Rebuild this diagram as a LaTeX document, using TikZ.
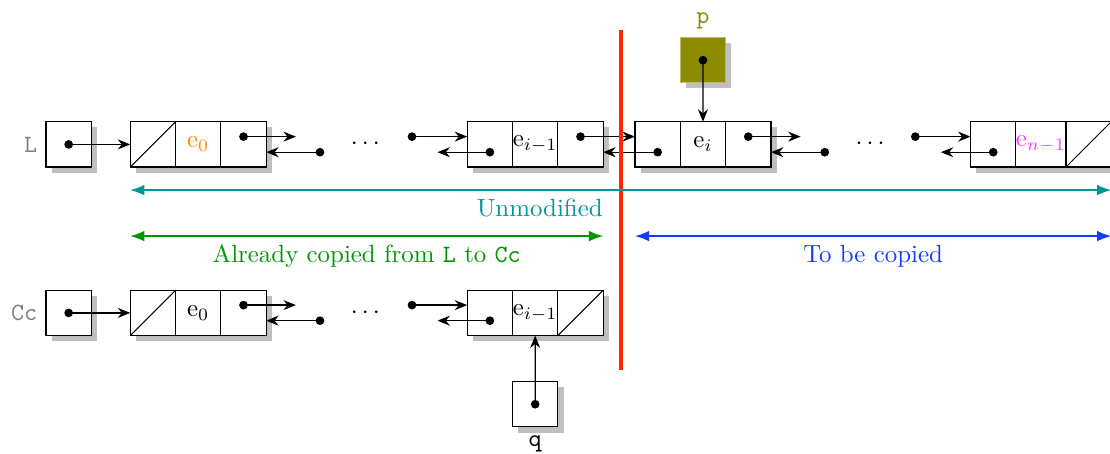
\documentclass[tikz,border=0pt]{standalone}
\usepackage{xcolor}
\definecolor{unmod}{RGB}{0,150,150}
\definecolor{done}{RGB}{0,150,0}
\definecolor{todo}{RGB}{20,60,255}
\definecolor{cutline}{RGB}{255,40,0}
\definecolor{ptrfill}{RGB}{140,140,0}
\definecolor{elemfirst}{RGB}{255,140,0}
\definecolor{elemlast}{RGB}{255,60,255}
\usepackage{tikz}
\usetikzlibrary{
    arrows.meta,
    positioning,
    shadows
}

\begin{document}
\begin{tikzpicture}[
        cell/.style={rectangle, draw, line width=0.5pt, fill=white, minimum width=0.64cm, minimum height=0.64cm, inner sep=0pt, outer sep=0pt, drop shadow={shadow xshift=0.08cm, shadow yshift=-0.08cm, fill=black!25, opacity=1}},
        lnk/.style={-{Stealth[length=5pt, width=4pt]}, line width=0.5pt},
        dimline/.style={{Latex}-{Latex}, semithick, draw=#1, text=#1}
    ]
        \useasboundingbox (0,0) rectangle (15.68,6.40);

        \node[cell] (lptr) at (0.97,4.36) {};
        \node[left=0pt of lptr, text=gray, font=\ttfamily] (lname) {L};

        \node[cell] (first-p) at (2.16,4.36) {};
        \node[cell, right=0pt of first-p] (first-e) {\color{elemfirst}$\mathrm{e}_0$};
        \node[cell, right=0pt of first-e] (first-n) {};

        \node[cell] (prev-p) at (6.92,4.36) {};
        \node[cell, right=0pt of prev-p] (prev-e) {$\mathrm{e}_{i-1}$};
        \node[cell, right=0pt of prev-e] (prev-n) {};

        \node[cell] (cur-p) at (9.29,4.36) {};
        \node[cell, right=0pt of cur-p] (cur-e) {$\mathrm{e}_i$};
        \node[cell, right=0pt of cur-e] (cur-n) {};

        \node[cell] (last-p) at (14.03,4.36) {};
        \node[cell, right=0pt of last-p] (last-e) {\color{elemlast}$\mathrm{e}_{n-1}$};
        \node[cell, right=0pt of last-e] (last-n) {};

        \node (ldots1) at (5.16,4.36) {$\cdots$};
        \node (ldots2) at (12.29,4.36) {$\cdots$};

        \node[cell, fill=ptrfill, draw=ptrfill!60] (pptr) at (9.93,5.55) {};
        \node[above=0pt of pptr, text=ptrfill, font=\ttfamily] (pname) {p};

        \node[cell] (cptr) at (0.97,1.98) {};
        \node[left=0pt of cptr, text=gray, font=\ttfamily] (cname) {Cc};

        \node[cell] (cfirst-p) at (2.16,1.98) {};
        \node[cell, right=0pt of cfirst-p] (cfirst-e) {$\mathrm{e}_0$};
        \node[cell, right=0pt of cfirst-e] (cfirst-n) {};

        \node[cell] (cprev-p) at (6.92,1.98) {};
        \node[cell, right=0pt of cprev-p] (cprev-e) {$\mathrm{e}_{i-1}$};
        \node[cell, right=0pt of cprev-e] (cprev-n) {};

        \node (cdots) at (5.16,1.98) {$\cdots$};

        \node[cell] (qptr) at (7.56,0.69) {};
        \node[below=0pt of qptr, font=\ttfamily] (qname) {q};

        \draw (first-p.south west) -- (first-p.north east);
        \draw (last-n.south west) -- (last-n.north east);
        \draw (cfirst-p.south west) -- (cfirst-p.north east);
        \draw (cprev-n.south west) -- (cprev-n.north east);

        \coordinate (l1out) at ([yshift=0.11cm]first-n.center);
        \coordinate (l1end) at ([shift={(0.74,0.11)}]first-n.center);
        \coordinate (l1back) at ([shift={(1.08,-0.11)}]first-n.center);
        \coordinate (l2in) at ([shift={(-0.78,0.11)}]prev-p.west);
        \coordinate (l2back) at ([yshift=-0.11cm]prev-p.center);
        \coordinate (l2end) at ([shift={(-0.74,-0.11)}]prev-p.center);
        \coordinate (l3out) at ([yshift=0.11cm]prev-n.center);
        \coordinate (l3back) at ([yshift=-0.11cm]cur-p.center);
        \coordinate (l4out) at ([yshift=0.11cm]cur-n.center);
        \coordinate (l4end) at ([shift={(0.74,0.11)}]cur-n.center);
        \coordinate (l4back) at ([shift={(1.08,-0.11)}]cur-n.center);
        \coordinate (l5in) at ([shift={(-0.78,0.11)}]last-p.west);
        \coordinate (l5back) at ([yshift=-0.11cm]last-p.center);
        \coordinate (l5end) at ([shift={(-0.74,-0.11)}]last-p.center);

        \coordinate (c1out) at ([yshift=0.11cm]cfirst-n.center);
        \coordinate (c1end) at ([shift={(0.74,0.11)}]cfirst-n.center);
        \coordinate (c1back) at ([shift={(1.08,-0.11)}]cfirst-n.center);
        \coordinate (c2in) at ([shift={(-0.78,0.11)}]cprev-p.west);
        \coordinate (c2back) at ([yshift=-0.11cm]cprev-p.center);
        \coordinate (c2end) at ([shift={(-0.74,-0.11)}]cprev-p.center);

        \foreach \d in {lptr.center, pptr.center, cptr.center, qptr.center, l1out, l1back, l2in, l2back, l3out, l3back, l4out, l4back, l5in, l5back, c1out, c1back, c2in, c2back}
            \fill (\d) circle (1.75pt);

        \draw[lnk] (lptr.center) -- (first-p.west);
        \draw[lnk] (l1out) -- (l1end);
        \draw[lnk] (l1back) -- ([yshift=-0.11cm]first-n.east);
        \draw[lnk] (l2in) -- ([yshift=0.11cm]prev-p.west);
        \draw[lnk] (l2back) -- (l2end);
        \draw[lnk] (l3out) -- ([yshift=0.11cm]cur-p.west);
        \draw[lnk] (l3back) -- ([yshift=-0.11cm]prev-n.east);
        \draw[lnk] (l4out) -- (l4end);
        \draw[lnk] (l4back) -- ([yshift=-0.11cm]cur-n.east);
        \draw[lnk] (l5in) -- ([yshift=0.11cm]last-p.west);
        \draw[lnk] (l5back) -- (l5end);
        \draw[lnk] (pptr.center) -- (cur-e.north);

        \draw[lnk] (cptr.center) -- (cfirst-p.west);
        \draw[lnk] (c1out) -- (c1end);
        \draw[lnk] (c1back) -- ([yshift=-0.11cm]cfirst-n.east);
        \draw[lnk] (c2in) -- ([yshift=0.11cm]cprev-p.west);
        \draw[lnk] (c2back) -- (c2end);
        \draw[lnk] (qptr.center) -- (cprev-e.south);

        \coordinate (cuttop) at (8.77,5.98);
        \coordinate (cutbot) at (8.77,1.17);
        \draw[cutline, line width=1.8pt] (cuttop) -- (cutbot);

        \coordinate (unmodl) at ([yshift=-0.325cm]first-p.south west);
        \draw[dimline=unmod] (unmodl) -- (unmodl -| last-n.east);
        \node[anchor=north east, inner xsep=0pt, text=unmod] (unmodlbl) at (unmodl -| prev-n.east) {Unmodified};

        \coordinate (donel) at ([yshift=-0.975cm]first-p.south west);
        \draw[dimline=done] (donel) -- (donel -| prev-n.east) node[midway, below] (donelbl) {Already copied from \texttt{L} to \texttt{Cc}};
        \draw[dimline=todo] (donel -| cur-p.west) -- (donel -| last-n.east) node[midway, below] (todolbl) {To be copied};
    \end{tikzpicture}
\end{document}
